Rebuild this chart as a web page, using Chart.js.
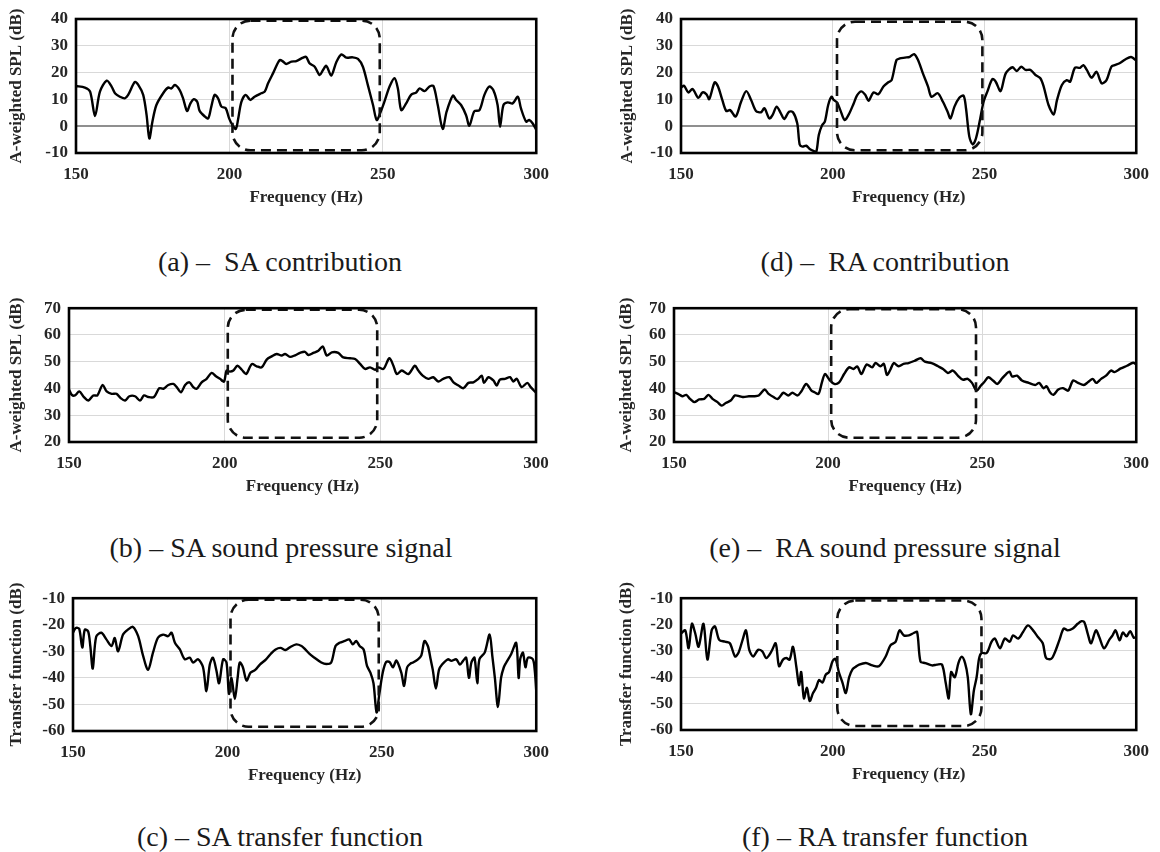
<!DOCTYPE html>
<html>
<head>
<meta charset="utf-8">
<script src="https://cdn.jsdelivr.net/npm/chart.js@4.4.1/dist/chart.umd.min.js"></script>
<style>
  html, body { margin: 0; padding: 0; background: #fff; }
  body { width: 1160px; height: 852px; position: relative; overflow: hidden; }
  canvas { position: absolute; }
  .cap { position: absolute; transform: translate(-50%, -50%); white-space: pre;
         font-family: "Liberation Serif", "Times New Roman", serif; font-size: 28px; color: #1a1a1a; line-height: 1.15; }
</style>
</head>
<body>
<script>
// ---------------- data ----------------
const xTickLabels = [150, 200, 250, 300];
const yTicksContribution = [-10, 0, 10, 20, 30, 40];
const yTicksSignal = [20, 30, 40, 50, 60, 70];
const yTicksTransfer = [-60, -50, -40, -30, -20, -10];
const xTitle = 'Frequency (Hz)';
const yTitleSPL = 'A-weighted SPL (dB)';
const yTitleTF = 'Transfer function (dB)';
const captionA = '(a) –  SA contribution';
const captionB = '(b) – SA sound pressure signal';
const captionC = '(c) – SA transfer function';
const captionD = '(d) –  RA contribution';
const captionE = '(e) –  RA sound pressure signal';
const captionF = '(f) – RA transfer function';

// highlighted band (dashed frame): [fromHz, toHz, lowdB, highdB]
const bandA = [201, 249, -9.0, 39.4];
const bandB = [201, 249, 21.6, 69.4];
const bandC = [201, 249, -58.4, -10.6];
const bandD = [201.4, 249.3, -9.0, 39.0];
const bandE = [201, 248, 21.6, 69.6];
const bandF = [201.5, 249, -58.5, -10.9];

// (a) SA contribution
const freqA = [150,152.9,154.6,156.2,157.8,160,161.6,162.7,164.3,165.9,167,169.2,170.3,171.9,173,173.9,174.9,176.2,178.4,180,181.1,182.2,183.8,184.9,186.2,187.3,188.4,189.5,190.3,192,193.1,194.1,195.2,196.3,197.4,198.8,199.9,201,202.1,202.8,203.9,205.3,206.8,208.2,210.4,211.5,212.6,214.2,216.4,217.5,218.5,220.2,221.8,224,225,226.1,227.8,229.4,230.5,231.6,233.2,234.8,236.5,238.1,240.2,241.9,243.5,245.1,246.8,248,249.1,250.5,252.2,253.8,254.9,256,257.6,259.2,260.9,262,263.6,265.2,266.5,267.9,269.5,270.8,272.8,273.9,275.5,277.1,278.2,279.8,281.5,283.1,284.7,286,287.4,288.2,289.3,290.7,292.3,294,295,296.7,297.7,298.8,300];
const splA = [15.0,14.4,12.9,3.8,12.9,17.0,14.8,12.3,11.0,10.4,11.7,16.5,15.4,11.7,4.2,-4.6,1.7,7.9,12.3,14.4,14.1,15.4,13.5,10.4,5.7,8.5,10.1,9.1,5.7,3.6,2.9,7.3,11.7,10.4,7.3,6.7,2.9,0.4,-1.0,2.4,9.1,11.7,9.8,11.0,12.3,12.9,16.0,19.7,24.7,24.1,23.2,24.1,24.3,25.6,25.9,23.5,22.2,19.1,21.0,22.5,18.9,23.8,26.8,25.6,25.7,25.1,22.2,15.4,7.9,2.3,4.8,9.1,14.8,17.9,14.1,6.0,8.5,11.7,12.6,14.1,13.1,14.8,15.0,7.9,-1.0,5.5,11.4,9.8,7.9,4.2,0.2,5.5,6.0,11.7,14.8,13.5,7.9,-0.2,7.9,8.9,8.5,11.0,6.7,1.7,2.3,1.1,-1.4];

// (b) SA sound pressure signal
const freqB = [150,150.9,151.9,153.3,154.8,156.2,157.8,159.1,160.8,162.1,163.7,165.3,166.6,168,169.4,171.2,172.8,174.1,175.5,177.3,179,180.3,181.9,183.5,184.6,186,187.3,188.7,189.9,191,192.6,194.2,195.8,197.2,198.5,199.8,200.6,201.7,202.8,204.1,205.5,206.9,208.7,210.3,211.9,213.5,215.1,216.7,218.3,219.4,221,222.6,224.2,225.8,226.9,228.5,230.1,231.5,232.8,234.4,236.5,238.1,240.3,241.9,243.5,245.1,246.7,248.3,249.4,251,252.9,254.2,255.3,256.9,259,261.1,262.2,263.6,265.4,267,268.6,270.2,272.2,273.5,275.1,276.7,278.3,279.9,281.5,282.6,283.3,284.7,286.3,287.4,288.4,290,291.7,292.7,293.8,295.4,297.2,298.3,300];
const splB = [39.6,37.6,37.4,38.9,36.8,35.5,37.4,37.4,41.3,38.9,38.0,38.0,36.4,35.5,37.1,37.1,35.5,37.4,36.8,36.8,40.1,39.9,41.3,41.7,40.5,38.6,41.3,42.3,40.5,39.9,42.3,43.6,45.8,44.6,43.6,42.6,46.7,46.3,46.7,48.5,47.0,45.4,49.1,48.3,47.9,50.8,52.0,52.9,52.3,52.9,51.8,52.4,53.3,53.7,52.5,53.3,54.1,55.7,52.3,53.5,53.3,51.6,51.3,51.0,49.2,47.3,47.9,47.0,47.9,47.3,51.3,48.5,45.4,46.7,45.4,48.5,46.7,44.8,43.6,44.2,42.6,43.6,44.2,42.3,41.1,40.1,42.1,42.3,43.6,44.8,42.1,44.2,43.0,41.1,43.3,43.6,44.2,42.6,43.6,40.5,42.1,40.5,38.4];

// (c) SA transfer function
const freqC = [150,150.9,152,153,153.8,154.9,155.6,156.4,157.5,159.2,160.8,162.5,163.5,164.6,166.2,167.8,169.4,171.1,172.7,174.3,175.9,177.5,179.2,180.8,181.9,183,184.6,186.2,187.8,188.9,190.5,192.1,193.2,194.3,195.3,196.4,197.3,198.6,199.7,200.5,201.3,202.4,203.3,204,205,206.2,207.5,209,210.5,212.5,214,215.6,217.2,218.8,220.2,222.3,224,225,226.6,228.2,230.4,232,233.6,235,236.3,238,239.4,240.6,241.7,242.8,244.1,245.2,246.3,247.3,248.3,249.2,250.3,251.4,252.5,253.6,254.7,256.3,257.2,258.2,259.4,260.1,261.7,262.8,263.8,264.9,265.8,266.5,267.5,268.5,269.5,271.4,272.5,274.1,275.3,276.3,277.3,278.2,279,280,280.9,281.6,283.3,284.9,285.8,286.6,287.6,288.6,289.5,290.3,291.9,293.5,294.3,294.8,295.7,296.5,297.3,298.9,299.5,300];
const tfC = [-23,-21.2,-21.5,-28.6,-21.9,-22.5,-28,-36.5,-24.5,-23,-25.5,-28,-25,-30,-23.7,-21.8,-20.8,-24.3,-31.7,-37,-30.5,-24.9,-23.7,-24.3,-23,-26.8,-29.3,-33,-32.4,-34.2,-33,-36,-45,-35,-32.4,-37,-42,-33,-34.2,-46,-40,-48,-40,-34.2,-36,-41,-38,-37,-35,-33,-31,-29.3,-28.7,-29.5,-28.5,-27.4,-28,-29,-31,-32.4,-34.2,-34.8,-34.2,-28,-26.8,-26.1,-25.5,-27.4,-26.1,-28,-29.3,-35.5,-38,-42,-53,-46,-38,-34,-34,-36,-33.5,-38,-43,-36,-34.5,-34.2,-33,-31.5,-26.1,-28,-33,-37,-44,-37,-35,-33,-33.6,-33,-35,-33.6,-32.4,-40,-34.2,-32.4,-42,-33,-30.5,-23.7,-32,-40,-51,-40,-36,-34.2,-31,-26.8,-40,-33,-30.5,-36,-32.4,-33,-37,-45];

// (d) RA contribution
const freqD = [150,151,152.4,153.8,155.7,157.1,158.4,159.3,161.1,162.2,163.6,164.9,166.2,168,169.8,171.5,173.1,174.7,176.4,177.5,179.1,180.2,181.5,182.9,184,185.6,186.9,188.3,189.1,190,191.3,192.4,193.8,194.6,195.4,196.5,197.4,198.5,199.6,200.3,201.4,202.5,203.9,205.2,206.9,208,209.4,210.7,211.8,213.4,215,216.7,218.3,219.4,221,222.1,223.8,225.4,226.8,228.1,229.7,231.4,232.5,234.6,236.3,237.9,238.8,240.1,241.7,243.1,243.9,245,246.1,247.2,248.6,249.7,251,252.6,253.7,255.3,257,259.2,260.6,262.1,263.5,265.1,266.8,268.4,269.5,271.1,272.8,273.9,275.5,277.1,278.2,279.8,281.5,282.6,283.7,285.3,286.9,288.6,290.2,291.8,292.9,294.5,296.5,298.3,300];
const splD = [14.4,15.1,12.6,13.9,10.6,12.6,11.9,10.1,16.4,14.8,9.8,5.7,6.0,3.6,9.1,13.1,9.8,5.7,5.2,6.7,2.9,4.2,7.3,4.8,2.7,5.4,5.2,1.1,-6.8,-7.6,-7.3,-8.5,-9.3,-9.5,-3.3,0.4,1.7,7.9,11.0,9.8,8.9,6.0,2.3,4.2,8.5,11.5,13.0,11.7,9.5,12.6,11.9,14.8,16.4,17.2,24.7,25.3,25.6,25.9,26.9,24.7,19.7,14.8,11.0,12.3,9.1,5.2,2.9,7.3,10.6,11.4,6.7,-3.9,-6.8,-4.5,2.9,9.1,13.1,17.6,16.6,13.1,19.7,22.0,20.6,22.2,21.0,21.0,19.1,17.9,14.8,7.9,4.4,9.8,15.4,17.2,16.6,21.8,21.8,22.8,21.0,18.1,20.3,16.0,17.2,22.2,22.8,23.5,25.0,25.8,24.5];

// (e) RA sound pressure signal
const freqE = [150,151.3,152.7,154,155.2,156.6,158.2,159.8,161.2,162.5,164.1,165.5,166.8,168.4,169.8,171.3,172.6,174.3,175.9,177.5,179.4,180.7,182.3,183.7,185.5,187.1,188.4,190.1,191.3,192.9,194.6,195.6,196.9,198,199,200.4,202,203.6,205.2,206.8,208.2,209.5,210.8,212.5,214.3,215.4,217,218.1,219.1,220.2,221.3,222.9,224.5,226.1,228.2,230,231.4,233.6,235.7,237.3,238.9,240.5,242.1,243.7,245.3,246.7,248.2,249.6,250.6,252,253.5,254.9,256.5,257.8,258.9,259.7,261.3,262.9,265.1,267.2,268.5,269.9,270.9,272,273.1,274.7,276.3,277.9,279.5,281.1,283,284.3,285.9,287,288.6,290.2,291.8,292.9,295,297,299,300];
const splE = [38.6,38.0,37.1,37.6,36.1,34.9,35.9,36.1,37.6,36.1,34.9,33.6,34.6,35.5,37.4,37.1,36.8,37.1,37.1,37.4,39.6,38.0,36.8,36.1,38.4,37.4,38.4,37.4,38.9,41.7,39.2,38.6,38.0,42.3,45.4,43.3,41.7,42.3,45.4,47.9,47.3,48.2,45.4,49.0,47.9,49.5,48.3,49.2,45.1,47.0,49.5,48.3,49.2,49.5,50.4,51.3,50.0,49.5,48.3,47.3,45.8,46.7,44.8,43.3,43.6,42.1,39.2,41.1,42.3,44.2,43.0,41.7,43.8,45.4,46.3,44.5,44.8,43.0,42.1,41.3,42.1,40.1,40.8,38.6,37.6,39.6,40.1,39.2,43.0,42.1,41.3,42.3,43.6,42.1,43.6,44.8,46.7,46.1,47.5,48.5,49.6,49.0];

// (f) RA transfer function
const freqF = [150,151.4,152.5,153.6,154.7,155.8,157.4,158.7,160.1,161.2,162.6,164.5,166.1,167.8,168.9,170.3,171.4,172.5,173.8,175.4,176.8,178.1,179.8,181.2,182.3,183.6,184.7,185.8,186.9,188,188.9,189.6,190.5,191.5,192.4,193.5,194.5,195.5,196.6,197.7,198.8,199.9,200.9,202,203.2,204.3,205.4,206.5,207.6,208.7,210.9,213.1,215.2,217.4,219,220.7,222,223.4,225.1,226.7,227.8,228.9,230.5,232.7,234.3,236,237.2,238.2,239,240.2,241.4,242.5,243.6,244.5,245.5,246.5,247.4,248.2,249,250.7,252.3,253.4,255.1,256.7,258.3,259.4,261.1,262.7,264.3,266,267.6,269.2,270.3,272,273.1,274.7,276.1,277.4,279.1,280.7,282,282.9,284,285.1,286.7,287.8,289.4,291.1,292.2,293.2,294.5,295.6,296.8,298,299.2,300];
const tfF = [-23.4,-22.2,-29,-19.7,-23.4,-28.4,-19.7,-33.3,-22.2,-20.7,-25.8,-26.5,-27.1,-32.1,-30.8,-25.8,-22.2,-29.6,-32.1,-29.6,-30.2,-32.7,-30.2,-27.1,-35.8,-33.3,-32.7,-33.3,-28.4,-36,-43,-38,-48,-44,-49,-46,-44,-41,-42,-39,-38,-34,-33,-38,-42,-46,-40,-37,-36,-35.2,-34.6,-35.5,-35.8,-32.2,-27.9,-26.6,-22.2,-24.1,-24.1,-23.2,-22.8,-34,-34.6,-35.5,-35.2,-35.2,-42,-48,-38,-40,-34.6,-32.2,-34.6,-40,-54,-45,-40,-33,-30.8,-30.8,-26.6,-25.3,-29,-25.3,-26.5,-24.1,-25.3,-22.8,-20.3,-22.2,-24.7,-27.1,-32.7,-33,-30.8,-25.8,-21.5,-22.2,-21.5,-19.7,-18.7,-19.1,-23.4,-27.1,-22.2,-24.7,-29,-25.8,-24.1,-22.2,-26,-23,-24.5,-22.5,-25,-24.6];

// ---------------- layout & style ----------------
const FONT = '"Liberation Serif", "Times New Roman", serif';
const AXIS_COLOR = '#262626';
const TICK_SIZE = 17;
const TITLE_SIZE = 17;

const panels = [
  { freq: freqA, vals: splA, ticks: yTicksContribution, yTitle: yTitleSPL, band: bandA, caption: captionA,
    canvas: [0, 0, 560, 215], plot: [76, 19, 537, 153], yTitleX: 17, cap: [280, 262] },
  { freq: freqB, vals: splB, ticks: yTicksSignal, yTitle: yTitleSPL, band: bandB, caption: captionB,
    canvas: [0, 290, 560, 215], plot: [69, 307, 536, 442], yTitleX: 17, cap: [281, 548] },
  { freq: freqC, vals: tfC, ticks: yTicksTransfer, yTitle: yTitleTF, band: bandC, caption: captionC,
    canvas: [0, 580, 560, 215], plot: [73, 597, 537, 731], yTitleX: 17, cap: [280, 837] },
  { freq: freqD, vals: splD, ticks: yTicksContribution, yTitle: yTitleSPL, band: bandD, caption: captionD,
    canvas: [580, 0, 580, 215], plot: [681, 19, 1141, 153], yTitleX: 628, cap: [885, 262] },
  { freq: freqE, vals: splE, ticks: yTicksSignal, yTitle: yTitleSPL, band: bandE, caption: captionE,
    canvas: [580, 290, 580, 215], plot: [674, 307, 1143, 442], yTitleX: 627, cap: [885, 548] },
  { freq: freqF, vals: tfF, ticks: yTicksTransfer, yTitle: yTitleTF, band: bandF, caption: captionF,
    canvas: [580, 580, 580, 215], plot: [681, 596, 1140, 730], yTitleX: 627, cap: [885, 837] }
];

function roundedRectPath(ctx, x, y, w, h, r) {
  ctx.beginPath();
  ctx.moveTo(x + r, y);
  ctx.lineTo(x + w - r, y);
  ctx.arcTo(x + w, y, x + w, y + r, r);
  ctx.lineTo(x + w, y + h - r);
  ctx.arcTo(x + w, y + h, x + w - r, y + h, r);
  ctx.lineTo(x + r, y + h);
  ctx.arcTo(x, y + h, x, y + h - r, r);
  ctx.lineTo(x, y + r);
  ctx.arcTo(x, y, x + r, y, r);
  ctx.closePath();
}

const framePlugin = {
  id: 'frame',
  afterDatasetsDraw(chart, args, opts) {
    const { ctx, chartArea: ca, scales: { x, y } } = chart;
    const b = opts.band;
    const x0 = x.getPixelForValue(b[0]), x1 = x.getPixelForValue(b[1]);
    const y0 = y.getPixelForValue(b[3]), y1 = y.getPixelForValue(b[2]);
    ctx.save();
    ctx.strokeStyle = '#111';
    ctx.lineWidth = 2.6;
    ctx.setLineDash([10, 6]);
    roundedRectPath(ctx, x0, y0, x1 - x0, y1 - y0, 18);
    ctx.stroke();
    ctx.setLineDash([]);
    ctx.strokeStyle = '#000';
    ctx.lineWidth = 2.6;
    ctx.strokeRect(ca.left, ca.top, ca.right - ca.left, ca.bottom - ca.top);
    ctx.restore();
  }
};

panels.forEach((p, idx) => {
  if (p.freq.length !== p.vals.length) throw new Error('length mismatch in panel ' + idx + ': ' + p.freq.length + ' vs ' + p.vals.length);
  const [cl, ct, cw, ch] = p.canvas;
  const [pl, pt, pr, pb] = p.plot;
  const cv = document.createElement('canvas');
  cv.width = cw; cv.height = ch;
  cv.style.left = cl + 'px'; cv.style.top = ct + 'px';
  cv.style.width = cw + 'px'; cv.style.height = ch + 'px';
  document.body.appendChild(cv);

  const yW = pl - cl;
  const padTop = pt - ct;
  const padRight = (cl + cw) - pr;
  const xH = ch - (pb - ct);
  const titleLH = TITLE_SIZE * 1.2;
  const xTitlePadBottom = xH - 44.5 - titleLH / 2;
  const yTitlePadTop = (p.yTitleX - cl) - titleLH / 2;

  const axisFont = { family: FONT, size: TICK_SIZE, weight: 'bold' };
  const titleFont = { family: FONT, size: TITLE_SIZE, weight: 'bold' };

  new Chart(cv, {
    type: 'line',
    data: {
      datasets: [{
        data: p.freq.map((f, i) => ({ x: f, y: p.vals[i] })),
        borderColor: '#000',
        borderWidth: 2.4,
        pointRadius: 0,
        tension: 0.3,
        fill: false
      }]
    },
    options: {
      responsive: false,
      animation: false,
      devicePixelRatio: 1,
      layout: { padding: { top: padTop, right: padRight, left: 0, bottom: 0 } },
      plugins: { legend: { display: false }, tooltip: { enabled: false }, frame: { band: p.band } },
      scales: {
        x: {
          type: 'linear', min: 150, max: 300,
          afterBuildTicks: s => { s.ticks = xTickLabels.map(v => ({ value: v })); },
          afterFit: s => { s.height = xH; },
          border: { display: false },
          grid: {
            drawTicks: false, lineWidth: 1,
            color: c => (c.tick && (c.tick.value === 150 || c.tick.value === 300)) ? 'rgba(0,0,0,0)' : '#d9d9d9'
          },
          ticks: { padding: 11, maxRotation: 0, autoSkip: false, color: AXIS_COLOR, font: axisFont, callback: v => String(v) },
          title: { display: true, text: xTitle, color: AXIS_COLOR, font: titleFont, padding: { top: 0, bottom: xTitlePadBottom } }
        },
        y: {
          min: p.ticks[0], max: p.ticks[p.ticks.length - 1],
          afterBuildTicks: s => { s.ticks = p.ticks.map(v => ({ value: v })); },
          afterFit: s => { s.width = yW; },
          border: { display: false },
          grid: {
            drawTicks: false,
            color: c => (c.tick && c.tick.value === 0) ? '#8f8f8f' : '#d9d9d9',
            lineWidth: c => (c.tick && c.tick.value === 0) ? 2 : 1
          },
          ticks: { padding: 8, autoSkip: false, color: AXIS_COLOR, font: axisFont, callback: v => String(v) },
          title: { display: true, text: p.yTitle, color: AXIS_COLOR, font: titleFont, padding: { top: yTitlePadTop, bottom: 0 } }
        }
      }
    },
    plugins: [framePlugin]
  });

  const cap = document.createElement('div');
  cap.className = 'cap';
  cap.textContent = p.caption;
  cap.style.left = p.cap[0] + 'px';
  cap.style.top = p.cap[1] + 'px';
  document.body.appendChild(cap);
});
</script>
</body>
</html>
